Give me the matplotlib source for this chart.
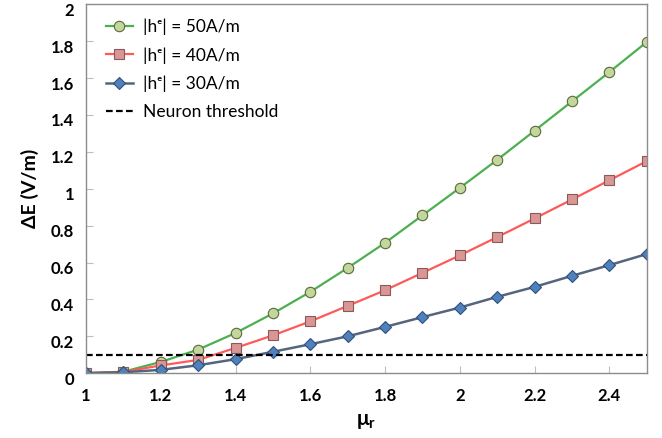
import matplotlib
matplotlib.use("Agg")
import matplotlib.pyplot as plt
import matplotlib.transforms as mtransforms

plt.rcParams["font.family"] = ["Lato", "DejaVu Sans"]

mu_r = [1.0, 1.1, 1.2, 1.3, 1.4, 1.5, 1.6, 1.7, 1.8, 1.9, 2.0, 2.1, 2.2, 2.3, 2.4, 2.5]

# delta E (V/m) for each field amplitude
de_50 = [0.0, 0.008, 0.061, 0.128, 0.218, 0.324, 0.441, 0.571, 0.707, 0.856,
         1.005, 1.157, 1.315, 1.474, 1.633, 1.796]
de_40 = [0.0, 0.007, 0.042, 0.072, 0.137, 0.205, 0.281, 0.365, 0.45, 0.544,
         0.639, 0.738, 0.839, 0.942, 1.046, 1.15]
de_30 = [0.0, 0.005, 0.018, 0.043, 0.076, 0.116, 0.157, 0.2, 0.251, 0.304,
         0.356, 0.414, 0.468, 0.528, 0.586, 0.646]
threshold = 0.1

labels = ["|hᵉ| = 50A/m", "|hᵉ| = 40A/m", "|hᵉ| = 30A/m", "Neuron threshold"]

fig = plt.figure(figsize=(6.62, 4.38), dpi=100)
ax = fig.add_axes([0.130, 0.148, 0.847, 0.842])

ax.plot(mu_r, de_50, color="#4caf50", lw=1.6, marker="o", ms=7.5,
        mfc="#c3d69b", mec="#5a6a3a", mew=0.8, label=labels[0])
ax.plot(mu_r, de_40, color="#ff5a5a", lw=1.6, marker="s", ms=7.5,
        mfc="#d99694", mec="#8a5a5a", mew=0.8, label=labels[1])
ax.plot(mu_r, de_30, color="#56657d", lw=1.8, marker="D", ms=6.5,
        mfc="#4f81bd", mec="#2f4f7a", mew=0.8, label=labels[2])
ax.axhline(threshold, color="black", lw=1.6, ls=(0, (3, 1.5)), label=labels[3])

ax.set_xlim(1, 2.5)
ax.set_ylim(0, 2)
ax.set_xticks([1, 1.2, 1.4, 1.6, 1.8, 2, 2.2, 2.4])
ax.set_xticklabels(["1", "1.2", "1.4", "1.6", "1.8", "2", "2.2", "2.4"])
ax.set_yticks([0, 0.2, 0.4, 0.6, 0.8, 1, 1.2, 1.4, 1.6, 1.8, 2])
ax.set_yticklabels(["0", "0.2", "0.4", "0.6", "0.8", "1", "1.2", "1.4", "1.6", "1.8", "2"])

for s in ax.spines.values():
    s.set_color("#8c8c8c")
    s.set_linewidth(1.0)
ax.tick_params(direction="in", length=5, color="#bfbfbf", labelsize=12)
ax.tick_params(axis="x", pad=11)
ax.tick_params(axis="y", pad=8.5)
for t in ax.get_xticklabels() + ax.get_yticklabels():
    t.set_fontweight("bold")

# y labels sit a little below their ticks, as in the original
shift = mtransforms.ScaledTranslation(0, -3.5 / 72, fig.dpi_scale_trans)
for t in ax.get_yticklabels():
    t.set_transform(t.get_transform() + shift)

ax.set_ylabel("ΔE (V/m)", fontsize=14, fontweight="bold", labelpad=9)
ax.set_xlabel("μ$_\\mathregular{r}$", fontsize=15, fontweight="bold", labelpad=5)

leg = ax.legend(loc="upper left", frameon=False, fontsize=12.5, handlelength=1.55,
                handletextpad=0.57, labelspacing=0.68, borderaxespad=0,
                bbox_to_anchor=(0.023, 0.98))

fig.savefig("out.png", dpi=100)
